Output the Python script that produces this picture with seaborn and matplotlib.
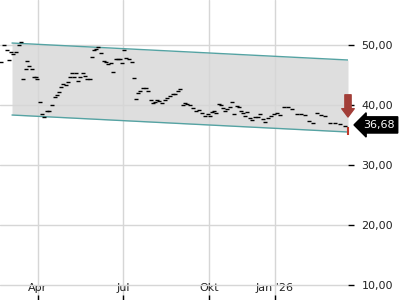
import matplotlib
matplotlib.use("Agg")
import matplotlib.pyplot as plt
import matplotlib.transforms as mtransforms
import seaborn as sns
import pandas as pd

# ---- data (session index, price) ----
session = [1, 4, 7, 9, 11, 13, 16, 19, 21, 23, 26, 27, 29, 32, 34, 36, 37, 40, 42, 44,
           47, 49, 52, 55, 57, 59, 61, 63, 66, 68, 70, 72, 74, 76, 78, 80, 83, 85, 87, 90,
           92, 94, 96, 98, 101, 104, 106, 108, 111, 113, 116, 118, 120, 122, 124, 126, 129, 132, 134, 136,
           138, 140, 143, 146, 148, 151, 153, 155, 157, 159, 162, 165, 167, 170, 173, 175, 178, 180, 183, 185,
           187, 190, 193, 196, 199, 202, 205, 208, 210, 212, 214, 216, 219, 221, 223, 225, 227, 230, 232, 234,
           237, 239, 241, 243, 245, 247, 250, 252, 255, 258, 260, 263, 265, 268, 271, 274, 277, 280, 284, 288,
           292, 297, 301, 305, 309, 313, 317, 321, 325, 330, 335, 340, 345]
price = [47.2, 50.0, 49.2, 47.5, 48.8, 48.5, 48.8, 50.0, 50.5, 44.3, 46.0, 47.3, 46.5, 46.0, 44.7, 44.7, 44.3, 40.5, 38.5, 38.0,
         39.0, 39.0, 40.0, 41.3, 41.7, 42.2, 43.0, 43.5, 43.3, 43.8, 44.7, 45.3, 44.7, 45.3, 44.0, 44.7, 45.3, 44.8, 44.3, 44.3,
         48.0, 49.2, 49.3, 49.7, 48.7, 47.3, 47.2, 46.8, 47.0, 45.5, 47.7, 47.7, 47.7, 47.0, 49.2, 47.8, 47.7, 47.2, 44.5, 41.0,
         42.0, 42.3, 42.8, 42.8, 42.3, 40.8, 40.3, 40.5, 40.8, 40.7, 40.3, 40.8, 41.2, 41.5, 41.8, 41.8, 42.3, 42.7, 40.0, 40.3,
         40.2, 40.0, 39.5, 39.0, 39.2, 38.7, 38.2, 38.5, 38.2, 38.8, 39.0, 38.7, 40.2, 40.0, 39.5, 39.0, 39.3, 39.7, 40.5, 38.5,
         39.8, 39.7, 39.0, 38.7, 38.2, 38.8, 37.8, 37.5, 38.0, 38.0, 38.5, 37.7, 37.2, 37.8, 38.2, 38.5, 38.7, 38.3, 39.7, 39.7,
         39.3, 38.5, 38.5, 38.3, 37.3, 37.0, 38.7, 38.3, 38.2, 37.0, 37.0, 36.8, 36.5]

last_session = 348
last_price = 36.68
last_low = 35.0
last_high = 36.3
last_label = "36,68"

channel_x = [12, 348]
channel_upper = [50.33, 47.5]
channel_lower = [38.33, 35.5]

arrow_top = 41.7
arrow_tip = 38.0

xtick_pos = [38, 123, 209, 275]
xtick_labels = ["Apr", "Jul", "Okt", "Jan '26"]
ytick_vals = [10, 20, 30, 40, 50]
ytick_labels = ["10,00", "20,00", "30,00", "40,00", "50,00"]

df = pd.DataFrame({"session": session, "price": price})

sns.set_theme(style="white")
plt.rcParams["font.family"] = ["DejaVu Sans"]

fig = plt.figure(figsize=(4, 3), dpi=100)
ax = fig.add_axes([0, 0, 348 / 400, 1])

# channel
ax.fill_between(channel_x, channel_lower, channel_upper, color="#dedede", zorder=0.2, linewidth=0)
ax.plot(channel_x, channel_upper, color="#55a3a3", lw=1.0, zorder=2)
ax.plot(channel_x, channel_lower, color="#55a3a3", lw=1.0, zorder=2)

# price dashes
sns.scatterplot(data=df, x="session", y="price", marker="_", s=8, color="black",
                linewidth=1.0, ax=ax, zorder=3, legend=False)

# last bar in red
ax.plot([last_session, last_session], [last_low, last_high], color="#c0392b", lw=1.5,
        zorder=4, clip_on=False, solid_capstyle="butt")

# red down arrow
ax.annotate("", xy=(last_session, arrow_tip), xytext=(last_session, arrow_top),
            arrowprops=dict(arrowstyle="simple,head_length=0.6,head_width=0.9,tail_width=0.45",
                            color="#a23e38", shrinkA=0, shrinkB=0, mutation_scale=10),
            annotation_clip=False, zorder=5)

ax.set_xlim(0, 348)
ax.set_ylim(7.5, 57.5)

ax.set_xticks(xtick_pos)
ax.set_xticklabels(xtick_labels)
ax.set_yticks(ytick_vals)
ax.set_yticklabels(ytick_labels)
ax.yaxis.tick_right()

ax.grid(True, color="#d6d6d6", lw=1.0)
ax.set_axisbelow(True)
for sp in ax.spines.values():
    sp.set_visible(False)

ax.tick_params(axis="x", direction="in", length=3.5, width=1, color="black",
               pad=-12.5, labelsize=8, labelcolor="#222222", bottom=True)
ax.tick_params(axis="y", direction="out", length=4.3, width=1, color="black",
               pad=5.5, labelsize=8, labelcolor="#222222", right=True, left=False)
ax.set_xlabel("")
ax.set_ylabel("")

# price label
trans = mtransforms.blended_transform_factory(ax.transAxes, ax.transData)
ax.text(363 / 348, last_price, last_label, transform=trans, ha="left", va="center",
        color="white", fontsize=8,
        bbox=dict(boxstyle="larrow,pad=0.28", fc="black", ec="black"), zorder=6, clip_on=False)

fig.savefig("out.png", dpi=100)
